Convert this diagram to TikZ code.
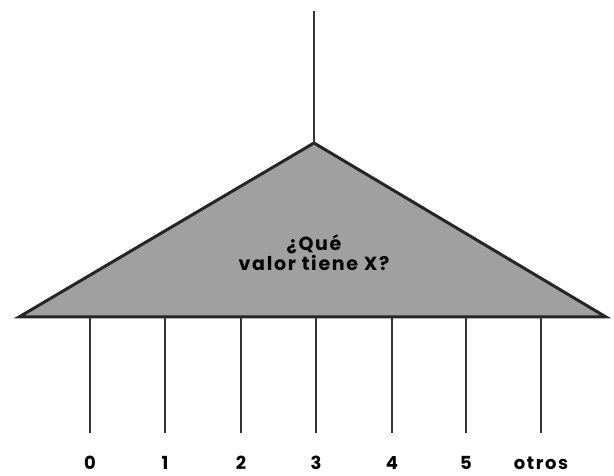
\documentclass[tikz,border=0pt]{standalone}
\usepackage{fontspec}
\setmainfont{Poppins}
\newfontfamily\casefont[LetterSpace=9]{Poppins}
\definecolor{boxgray}{RGB}{160,160,160}
\tikzset{
  casebox/.style={draw=black!85,line width=3pt,fill=boxgray,line join=miter},
  caseline/.style={draw=black!80,line width=2.2pt},
  caselabel/.style={font=\casefont\bfseries\fontsize{18}{20}\selectfont,inner sep=1pt}
}
\begin{document}
\begin{tikzpicture}[x=1pt,y=1pt]
        \useasboundingbox (0,0) rectangle (614,476);
        \coordinate (top) at (314,465);
        \coordinate (apex) at (314,333);
        \coordinate (left) at (19,159);
        \coordinate (right) at (606,159);
        \draw[casebox] (left) -- (apex) -- (right) -- cycle;
        \draw[caseline] (top) -- (apex);
        \node[caselabel,font=\casefont\bfseries\fontsize{19}{20}\selectfont,align=center] (question) at (314,223) {¿Qué\\valor tiene X?};
        \foreach \x/\t [count=\i] in {90/0,165/1,241/2,316/3,392/4,466/5,541/otros}{
            \coordinate (b\i) at (\x,159);
            \coordinate (e\i) at (\x,43);
            \node[caselabel,anchor=base] (l\i) at (\x,6) {\t};
            \draw[caseline] (b\i) -- (e\i);
        }
    \end{tikzpicture}
\end{document}
